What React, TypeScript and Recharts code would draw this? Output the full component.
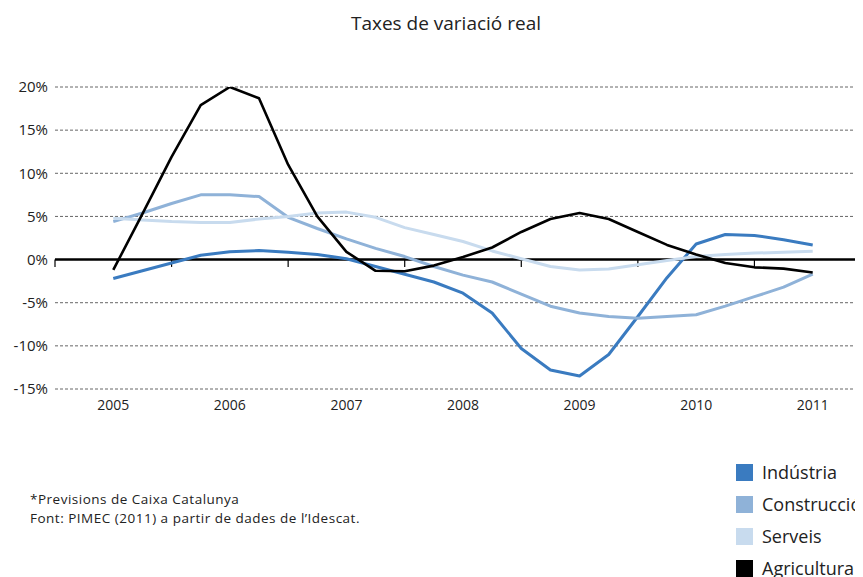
import React from 'react';
import { LineChart, Line, XAxis, YAxis, CartesianGrid, ReferenceLine } from 'recharts';

// Year labels (quarterly data, one label every 4 quarters)
const years = ['2005', '2006', '2007', '2008', '2009', '2010', '2011'];
const yTicks = [-15, -10, -5, 0, 5, 10, 15, 20];

// Quarterly real variation rates (%), 2005 Q1 .. 2011 Q1
const industria = [-2.2, -1.3, -0.4, 0.5, 0.9, 1.05, 0.85, 0.6, 0.1, -0.8, -1.7, -2.6, -3.9, -6.2, -10.3, -12.8, -13.5, -11.0, -6.6, -2.1, 1.8, 2.9, 2.8, 2.3, 1.7];
const construccio = [4.4, 5.4, 6.5, 7.5, 7.5, 7.3, 4.9, 3.6, 2.4, 1.3, 0.35, -0.8, -1.8, -2.6, -4.0, -5.4, -6.2, -6.6, -6.8, -6.6, -6.4, -5.4, -4.3, -3.2, -1.7];
const serveis = [4.8, 4.6, 4.4, 4.3, 4.3, 4.7, 5.0, 5.4, 5.5, 4.9, 3.7, 2.9, 2.1, 1.0, 0.1, -0.8, -1.2, -1.1, -0.6, -0.1, 0.35, 0.6, 0.75, 0.85, 0.95];
const agricultura = [-1.2, 5.3, 11.9, 17.9, 20.0, 18.7, 11.0, 5.0, 0.9, -1.3, -1.35, -0.7, 0.3, 1.4, 3.2, 4.7, 5.4, 4.7, 3.2, 1.7, 0.6, -0.4, -0.9, -1.05, -1.5];

const seriesNames = ['Indústria', 'Construcció', 'Serveis', 'Agricultura'];
const seriesColors = ['#3A7BC0', '#8FB2D8', '#C8DBEE', '#000000'];

const data = industria.map((v, i) => ({
  q: i,
  industria: v,
  construccio: construccio[i],
  serveis: serveis[i],
  agricultura: agricultura[i],
}));

const yearTicks = years.map((_, i) => i * 4);
const boundaries = Array.from({ length: years.length + 1 }, (_, i) => i * 4 - 2);

const FONT = '"Open Sans", "Noto Sans", sans-serif';

export default function App() {
  return (
    <div style={{ position: 'relative', width: 855, height: 569, overflow: 'hidden', fontFamily: FONT }}>
      <LineChart
        width={880}
        height={420}
        data={data}
        margin={{ top: 79, right: 17, bottom: 9, left: 0 }}
      >
        <CartesianGrid horizontal vertical={false} stroke="#666" strokeDasharray="3 2" />
        <XAxis
          type="number"
          dataKey="q"
          domain={[-2, 26]}
          ticks={yearTicks}
          tickFormatter={(v: number) => years[v / 4]}
          axisLine={false}
          tickLine={false}
          tickSize={0}
          tickMargin={11}
          height={30}
          tick={{ fontSize: 14, fill: '#222', fontFamily: FONT }}
          allowDataOverflow
        />
        <YAxis
          type="number"
          domain={[-15, 20]}
          ticks={yTicks}
          tickFormatter={(v: number) => `${v}%`}
          axisLine={false}
          tickLine={false}
          tickSize={0}
          tickMargin={7}
          width={47}
          tick={{ fontSize: 15, fill: '#222', fontFamily: FONT }}
          allowDataOverflow
        />
        <ReferenceLine y={0} stroke="#000" strokeWidth={2.5} />
        {boundaries.map((b) => (
          <ReferenceLine
            key={b}
            segment={[{ x: b, y: 0 }, { x: b, y: -0.85 }]}
            stroke="#000"
            strokeWidth={1.2}
            ifOverflow="visible"
          />
        ))}
        <Line type="linear" dataKey="industria" stroke={seriesColors[0]} strokeWidth={3} dot={false} isAnimationActive={false} strokeLinejoin="round" />
        <Line type="linear" dataKey="construccio" stroke={seriesColors[1]} strokeWidth={3} dot={false} isAnimationActive={false} strokeLinejoin="round" />
        <Line type="linear" dataKey="serveis" stroke={seriesColors[2]} strokeWidth={3} dot={false} isAnimationActive={false} strokeLinejoin="round" />
        <Line type="linear" dataKey="agricultura" stroke={seriesColors[3]} strokeWidth={2.6} dot={false} isAnimationActive={false} strokeLinejoin="round" />
      </LineChart>
      <svg width={855} height={569} style={{ position: 'absolute', left: 0, top: 0, pointerEvents: 'none' }}>
        <text x={438} y={22} textAnchor="middle" fontSize={19} fill="#222" fontFamily={FONT}>
          Taxes de variació real
        </text>
        <text x={22} y={496} fontSize={13.5} letterSpacing={0.5} fill="#222" fontFamily={FONT}>*Previsions de Caixa Catalunya</text>
        <text x={22} y={515} fontSize={13.5} letterSpacing={0.5} fill="#222" fontFamily={FONT}>Font: PIMEC (2011) a partir de dades de l’Idescat.</text>
        {seriesNames.map((name, i) => (
          <g key={name}>
            <rect x={728} y={456 + i * 32} width={17} height={17} fill={seriesColors[i]} />
            <text x={754} y={471 + i * 32} fontSize={18} fill="#222" fontFamily={FONT}>{name}</text>
          </g>
        ))}
      </svg>
    </div>
  );
}
